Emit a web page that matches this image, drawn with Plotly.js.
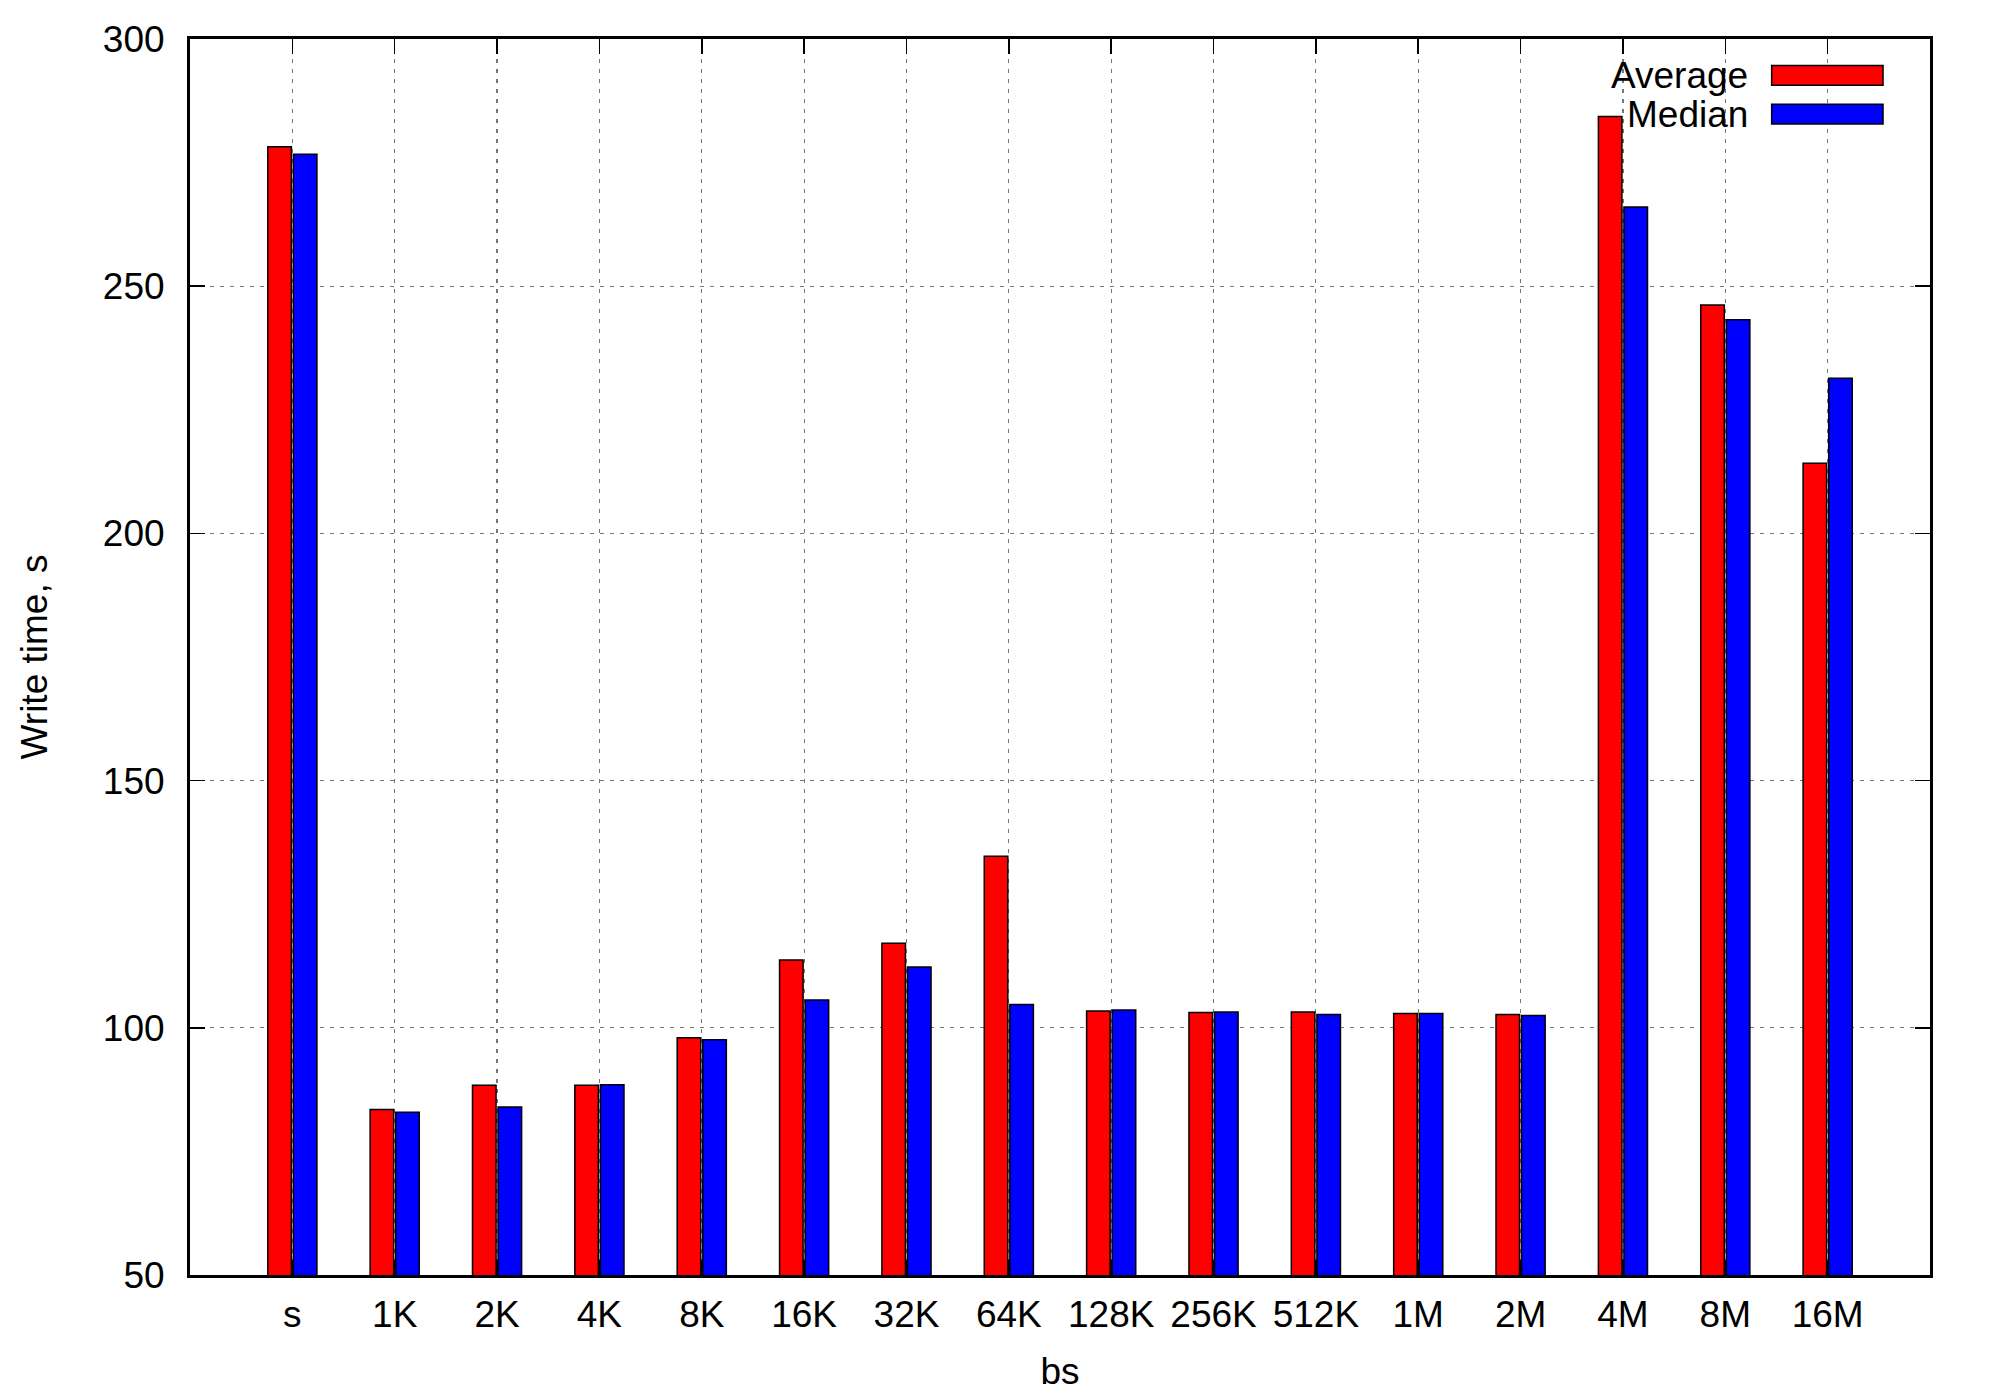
<!DOCTYPE html>
<html>
<head>
<meta charset="utf-8">
<script src="https://cdn.plot.ly/plotly-3.0.1.min.js"></script>
<style>html,body{margin:0;padding:0;background:#fff;}#chart{width:2000px;height:1400px;}</style>
</head>
<body>
<div id="chart"></div>
<script>
const categories = ["s","1K","2K","4K","8K","16K","32K","64K","128K","256K","512K","1M","2M","4M","8M","16M"];
const averageValues = [278.2, 83.5, 88.4, 88.4, 98.0, 113.7, 117.1, 134.7, 103.4, 103.1, 103.2, 102.9, 102.7, 284.3, 246.2, 214.2];
const medianValues  = [276.7, 82.9, 84.0, 88.5, 97.6, 105.6, 112.3, 104.7, 103.6, 103.2, 102.7, 102.9, 102.5, 266.0, 243.2, 231.4];
const seriesNames = ["Average", "Median"];
const seriesColors = ["#ff0000", "#0000ff"];
const yTicks = [50, 100, 150, 200, 250, 300];

const FONT = "Liberation Sans, Arial, Helvetica, sans-serif";

const traces = [averageValues, medianValues].map((vals, i) => ({
  type: "bar",
  name: seriesNames[i],
  x: categories,
  y: vals,
  base: 0,
  marker: {color: seriesColors[i], line: {color: "#000000", width: 1.5}},
  showlegend: false,
  hoverinfo: "x+y+name"
}));

const axisCommon = {
  showline: true, linecolor: "#000", linewidth: 3, mirror: "ticks",
  ticks: "inside", ticklen: 15, tickwidth: 1.5, tickcolor: "#000",
  showgrid: true, gridcolor: "#777", gridwidth: 1.2, griddash: "4px,6px",
  zeroline: false,
  tickfont: {family: FONT, size: 37, color: "#000"}
};

const legendAnnotations = seriesNames.map((n, i) => ({
  xref: "paper", yref: "paper", x: 0.8965, y: 0.9705 - i * 0.0312,
  xanchor: "right", yanchor: "middle", showarrow: false,
  text: n, font: {family: FONT, size: 37, color: "#000"}
}));
const legendShapes = seriesColors.map((c, i) => ({
  type: "rect", xref: "paper", yref: "paper",
  x0: 0.909, x1: 0.973, y0: 0.9625 - i * 0.0312, y1: 0.9785 - i * 0.0312,
  fillcolor: c, line: {color: "#000", width: 1.5}
}));

const layout = {
  width: 2000, height: 1400,
  margin: {l: 190, r: 70, t: 39, b: 125},
  paper_bgcolor: "#fff", plot_bgcolor: "#fff",
  barmode: "group", bargap: 0.5, bargroupgap: 0.08,
  font: {family: FONT, color: "#000"},
  xaxis: Object.assign({}, axisCommon, {
    type: "category", categoryorder: "array", categoryarray: categories,
    range: [-1, 16], autorange: false,
    title: {text: "bs", font: {family: FONT, size: 37, color: "#000"}, standoff: 24},
    ticklabelstandoff: 5
  }),
  yaxis: Object.assign({}, axisCommon, {
    range: [50, 300], autorange: false,
    tickmode: "array", tickvals: yTicks, ticktext: yTicks.map(String),
    title: {text: "Write time, s", font: {family: FONT, size: 37, color: "#000"}, standoff: 44},
    ticklabelstandoff: 15
  }),
  annotations: legendAnnotations,
  shapes: legendShapes
};

Plotly.newPlot("chart", traces, layout, {displayModeBar: false, staticPlot: true});
</script>
</body>
</html>
